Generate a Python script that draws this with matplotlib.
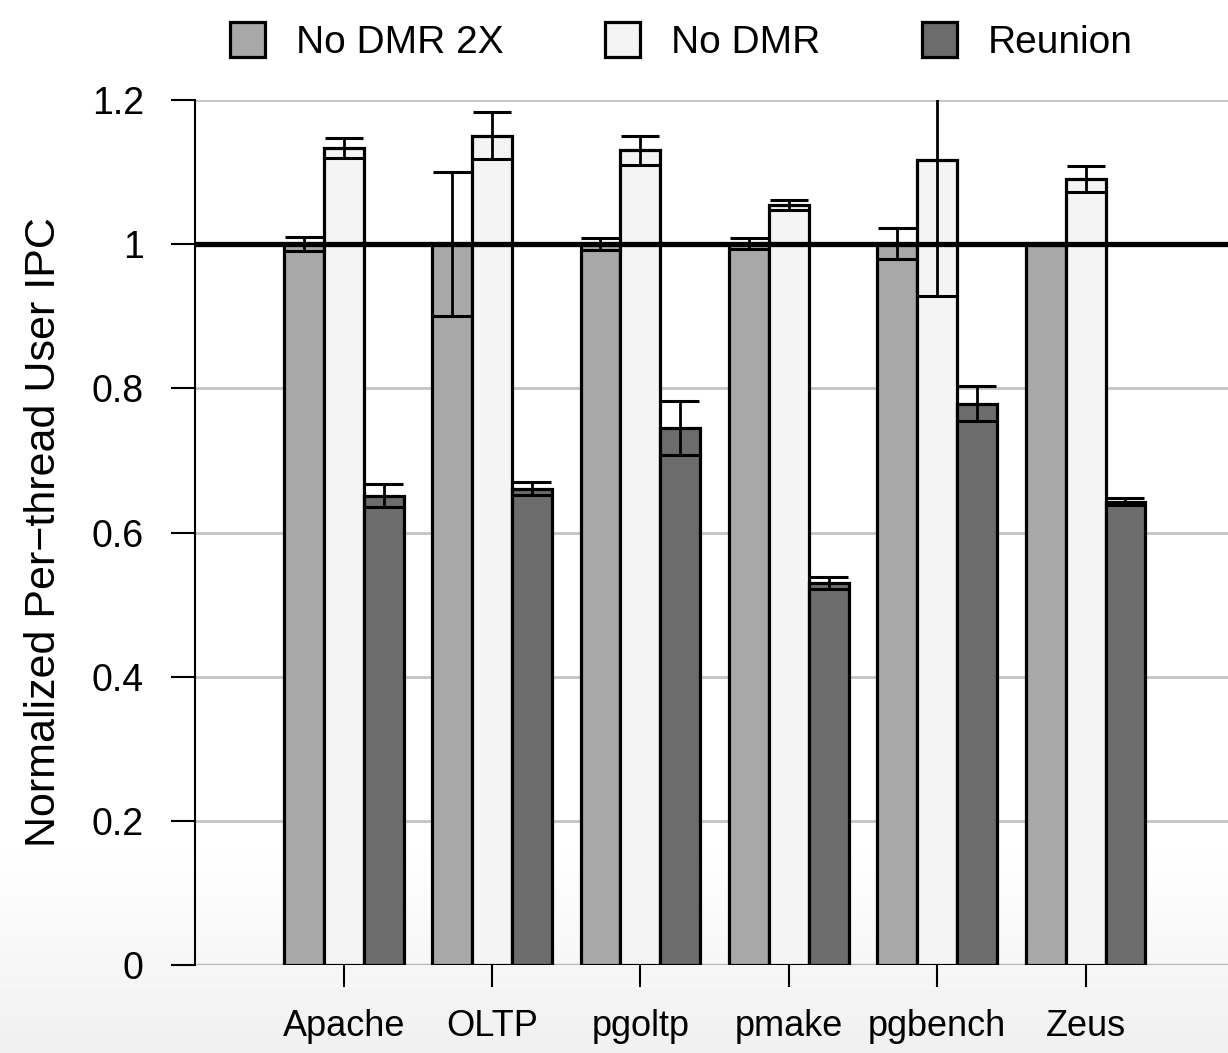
import matplotlib
matplotlib.use("Agg")
import matplotlib.pyplot as plt
import numpy as np

categories = ["Apache", "OLTP", "pgoltp", "pmake", "pgbench", "Zeus"]
series_names = ["No DMR 2X", "No DMR", "Reunion"]
nodmr2x = [1.0, 1.0, 1.0, 1.0, 1.0, 1.0]
nodmr2x_lo = [0.99, 0.90, 0.992, 0.993, 0.98, 0.999]
nodmr2x_hi = [1.01, 1.10, 1.008, 1.008, 1.022, 1.001]
nodmr = [1.133, 1.15, 1.13, 1.055, 1.117, 1.09]
nodmr_lo = [1.12, 1.118, 1.11, 1.048, 0.928, 1.073]
nodmr_hi = [1.148, 1.183, 1.15, 1.062, 1.30, 1.108]
reunion = [0.65, 0.66, 0.745, 0.53, 0.778, 0.643]
reunion_lo = [0.635, 0.652, 0.708, 0.522, 0.755, 0.638]
reunion_hi = [0.667, 0.67, 0.782, 0.538, 0.803, 0.648]
yticks = [0, 0.2, 0.4, 0.6, 0.8, 1.0, 1.2]
ytick_labels = ["0", "0.2", "0.4", "0.6", "0.8", "1", "1.2"]

colors = ["#a8a8a8", "#f4f4f4", "#6c6c6c"]
plt.rcParams["font.family"] = ["Liberation Sans", "DejaVu Sans"]

fig = plt.figure(figsize=(12.28, 10.53), dpi=100)

# subtle background gradient at bottom
bg = fig.add_axes([0, 0, 1, 1], zorder=-10)
t = np.linspace(0, 1, 200)
grad = np.where(t < 0.8, 1.0, 1.0 - (t - 0.8) / 0.2 * 0.06)[:, None]
bg.imshow(grad, aspect="auto", cmap="gray", vmin=0, vmax=1, extent=[0, 1, 0, 1], origin="upper")
bg.set_axis_off()

ax = fig.add_axes([0.159, 0.0836, 0.841, 0.8214])
ax.patch.set_alpha(0)

x = np.arange(len(categories))
w = 0.269
vals = [nodmr2x, nodmr, reunion]
los = [nodmr2x_lo, nodmr_lo, reunion_lo]
his = [nodmr2x_hi, nodmr_hi, reunion_hi]
for i in range(3):
    pos = x + (i - 1) * w
    v = np.array(vals[i])
    err = [v - np.array(los[i]), np.array(his[i]) - v]
    ax.bar(pos, v, w, color=colors[i], edgecolor="black", linewidth=2.3,
           label=series_names[i], zorder=3)
    ax.errorbar(pos, v, yerr=err, fmt="none", ecolor="black", elinewidth=2.0,
                capsize=14, capthick=2.2, zorder=5)

ax.axhline(1.0, color="black", linewidth=3.8, zorder=4)
ax.axhline(0.0, color="#b8b8b8", linewidth=2.4, zorder=1)

ax.set_xlim(-1.0, 5.96)
ax.set_ylim(0, 1.2)
ax.set_yticks(yticks)
ax.set_yticklabels(ytick_labels)
ax.set_xticks(x)
ax.set_xticklabels(categories)
ax.yaxis.grid(True, color="#c4c4c4", linewidth=2, zorder=0)
ax.set_axisbelow(True)
for s in ["top", "right", "bottom"]:
    ax.spines[s].set_visible(False)
ax.spines["left"].set_linewidth(1.5)
ax.spines["left"].set_color("black")
ax.tick_params(axis="y", direction="out", length=17, width=1.5, pad=20, labelsize=27)
ax.tick_params(axis="x", direction="out", length=16, width=1.5, pad=16, labelsize=26)
ax.set_ylabel("Normalized Per\u2212thread User IPC", fontsize=31, labelpad=20)

fig.legend(loc="upper center", bbox_to_anchor=(0.555, 1.012), ncol=3, frameon=False,
           fontsize=28, handlelength=0.9, handleheight=1.0, handletextpad=0.8,
           columnspacing=2.6)

fig.savefig("out.png", dpi=100)
